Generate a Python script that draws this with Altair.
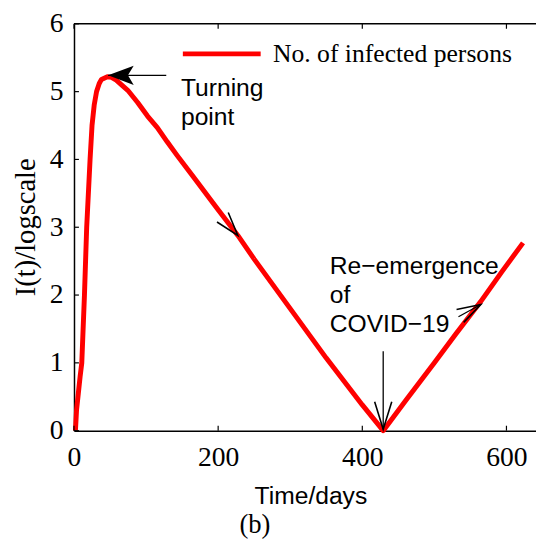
import altair as alt
import pandas as pd

# ---- data ----
days = [2, 3.5, 6, 8.5, 10.8, 14.5, 17.6, 22.3, 25, 28, 31.3, 35, 38.1, 46.3, 52, 58.6, 66,
        74.6, 88.3, 102, 115.6, 129.3, 143, 165.8, 197.6, 227.3, 250, 300, 350, 400, 429,
        460, 500, 530, 564, 594, 623]
infected = [0, 0.3, 0.55, 0.8, 1.0, 2.0, 3.0, 4.0, 4.5, 4.8, 5.0, 5.12, 5.18, 5.22, 5.21, 5.17, 5.1,
            5.02, 4.84, 4.64, 4.47, 4.26, 4.06, 3.74, 3.29, 2.88, 2.53, 1.8, 1.07, 0.38, 0.0,
            0.44, 1.0, 1.43, 1.9, 2.35, 2.77]
series_name = "No. of infected persons"

x_ticks = [0, 200, 400, 600]
y_ticks = [0, 1, 2, 3, 4, 5, 6]

ann_text = ["Turning\npoint", "Re\u2212emergence\nof\nCOVID\u221219"]
ann_x = [148.4, 354.8]
ann_y = [4.94, 2.31]

# arrow shafts (tail -> tip), data units
shaft_x0 = [128, 429, 533.4]
shaft_y0 = [5.24, 1.17, 1.68]
shaft_x1 = [47.3, 429, 564.4]
shaft_y1 = [5.24, 0.02, 1.86]

# arrow heads: tip position, direction (deg, clockwise from right), area
head_x = [429, 227.3, 564.4]
head_y = [0.02, 2.88, 1.86]
head_ang = [90, 50, 331]
head_size = [784, 576, 576]

turn_head_x = [47.3]
turn_head_y = [5.24]

panel_label = ["(b)"]
panel_x = [251]
panel_y = [-1.40]

W, H = 469, 413
xs = alt.Scale(domain=[0, 641])
ys = alt.Scale(domain=[0, 6])

x_axis = alt.Axis(
    values=x_ticks, grid=False, ticks=False, tickSize=0,
    labelFont="Liberation Serif", labelFontSize=28, labelColor="black",
    labelPadding=13, labelFlush=False,
    domainColor="black", domainWidth=1.5,
    title="Time/days", titleFont="Liberation Sans", titleFontSize=25,
    titleFontWeight="normal", titleColor="black",
    titleX=240, titleY=54, titleAlign="center", titleBaseline="top")
y_axis = alt.Axis(
    values=y_ticks, grid=False, ticks=False, tickSize=0,
    labelFont="Liberation Serif", labelFontSize=28, labelColor="black",
    labelPadding=11, labelFlush=False,
    domainColor="black", domainWidth=1.5,
    title="I(t)/logscale", titleFont="Liberation Serif", titleFontSize=29,
    titleFontWeight="normal", titleColor="black",
    titleX=-34, titleY=206, titleAlign="center", titleBaseline="bottom")


def X(f):
    return alt.X(f, type="quantitative", scale=xs, axis=x_axis)


def Y(f):
    return alt.Y(f, type="quantitative", scale=ys, axis=y_axis)


curve_df = pd.DataFrame({"day": days, "val": infected, "series": series_name})

curve = alt.Chart(curve_df).mark_line(strokeWidth=5, strokeJoin="round").encode(
    x=X("day"),
    y=Y("val"),
    color=alt.Color("series:N", scale=alt.Scale(domain=[series_name], range=["#ff0000"]),
                    legend=alt.Legend(title=None, orient="none", legendX=108, legendY=-11.5,
                                      symbolType="stroke", symbolSize=6241, symbolStrokeWidth=5,
                                      labelFont="Liberation Serif", labelFontSize=26,
                                      labelColor="black", labelOffset=10, labelLimit=0,
                                      padding=0)),
)

xt_df = pd.DataFrame({"v": x_ticks})
yt_df = pd.DataFrame({"v": y_ticks})

ticks_bottom = alt.Chart(xt_df).mark_rule(color="black", strokeWidth=1.2).encode(
    x=X("v"), y=alt.value(H), y2=alt.value(H - 5))
ticks_top = alt.Chart(xt_df).mark_rule(color="black", strokeWidth=1.2).encode(
    x=X("v"), y=alt.value(0), y2=alt.value(5))
ticks_left = alt.Chart(yt_df).mark_rule(color="black", strokeWidth=1.2).encode(
    y=Y("v"), x=alt.value(0), x2=alt.value(5))
top_border = alt.Chart(xt_df.head(1)).mark_rule(color="black", strokeWidth=1.5).encode(
    x=alt.value(0), x2=alt.value(W), y=alt.value(0))

shaft_df = pd.DataFrame({"x0": shaft_x0, "y0": shaft_y0, "x1": shaft_x1, "y1": shaft_y1})
shafts = alt.Chart(shaft_df).mark_rule(color="black", strokeWidth=1.3).encode(
    x=X("x0"), y=Y("y0"), x2="x1", y2="y1")

head_df = pd.DataFrame({"x": head_x, "y": head_y, "ang": head_ang, "sz": head_size})
heads = alt.Chart(head_df).mark_point(
    shape="M-2,-0.62L0,0L-2,0.62", filled=False, color="black", strokeWidth=1.6, opacity=1
).encode(
    x=X("x"), y=Y("y"),
    angle=alt.Angle("ang:Q", scale=None), size=alt.Size("sz:Q", scale=None, legend=None))

turn_df = pd.DataFrame({"x": turn_head_x, "y": turn_head_y})
turn_head = alt.Chart(turn_df).mark_point(
    shape="M0,0L-2,-0.75L-1.55,0L-2,0.75Z", filled=True, color="black", opacity=1,
    size=676, angle=180
).encode(x=X("x"), y=Y("y"))

ann_df = pd.DataFrame({"t": ann_text, "x": ann_x, "y": ann_y})
ann = alt.Chart(ann_df).mark_text(
    align="left", baseline="alphabetic", font="Liberation Sans", fontSize=25,
    lineHeight=29.5, color="black", lineBreak="\n"
).encode(x=X("x"), y=Y("y"), text="t:N")

panel_df = pd.DataFrame({"t": panel_label, "x": panel_x, "y": panel_y})
panel = alt.Chart(panel_df).mark_text(
    align="center", baseline="middle", font="Liberation Serif", fontSize=27, color="black"
).encode(x=X("x"), y=Y("y"), text="t:N")

chart = alt.layer(
    curve, ticks_bottom, ticks_top, ticks_left, top_border, shafts, heads, turn_head, ann, panel
).properties(
    width=W, height=H,
    autosize=alt.AutoSizeParams(type="none"),
    padding={"left": 67, "top": 12, "right": 0, "bottom": 112},
    background="white",
).configure_view(stroke=None)

chart.save("out.html", embed_options={"renderer": "svg", "actions": False})
